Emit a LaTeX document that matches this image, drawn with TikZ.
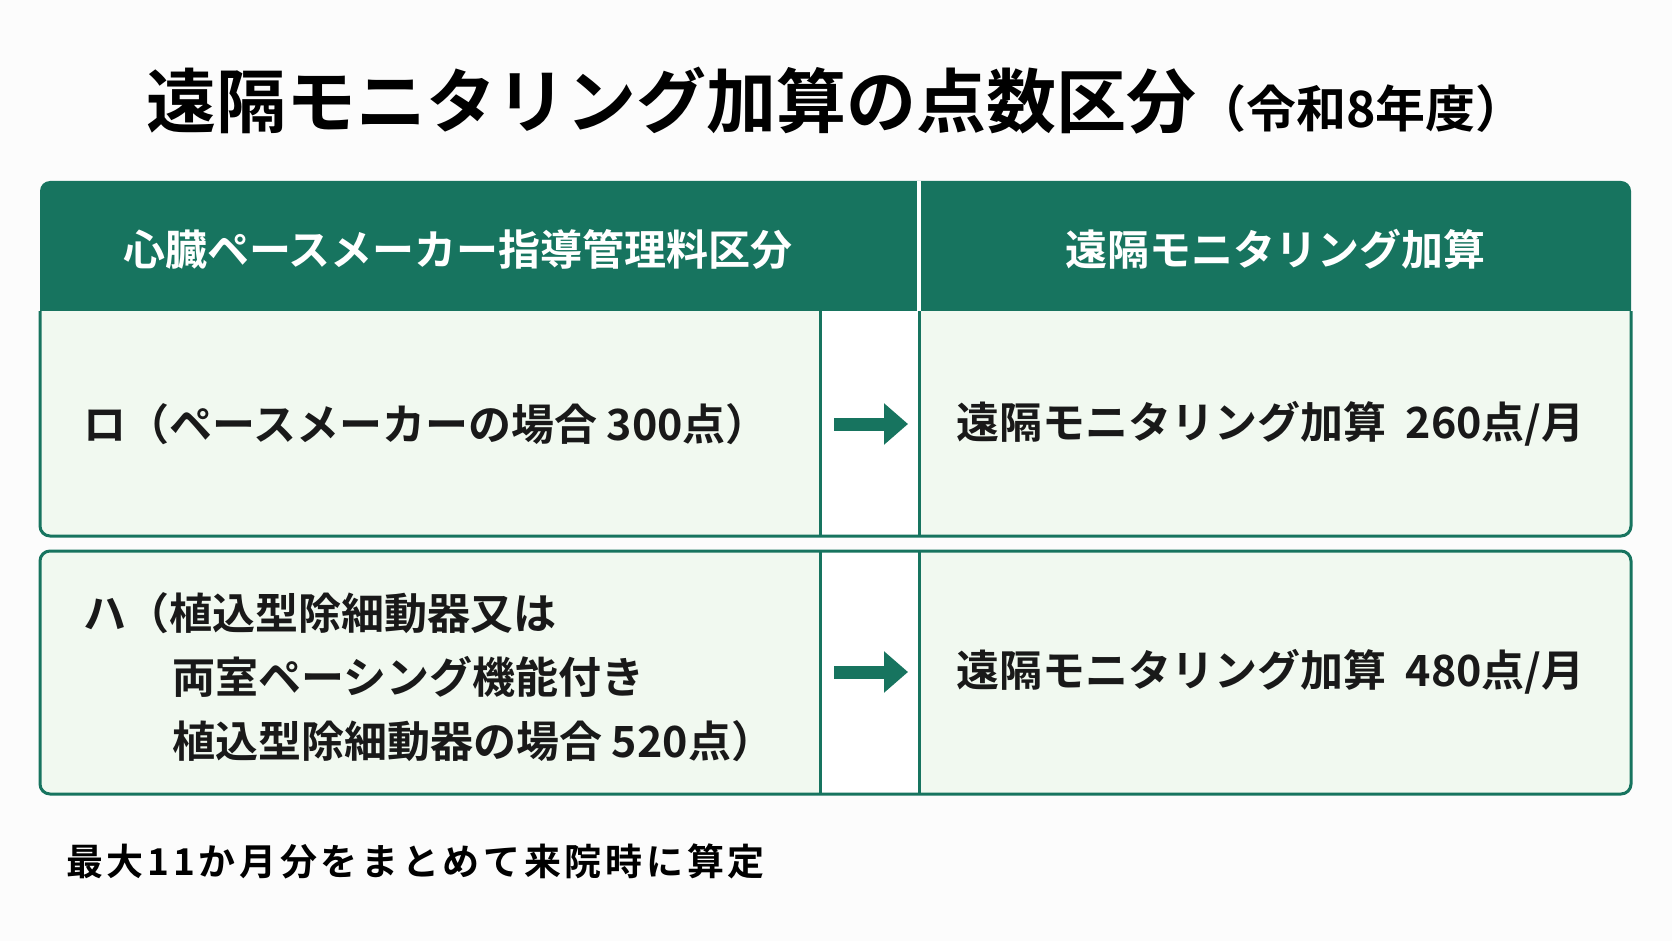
\documentclass[tikz,border=0pt]{standalone}
\usepackage{fontspec}
\setmainfont{Noto Sans CJK JP}[BoldFont={Noto Sans CJK JP Bold}]
\newfontfamily\jpb{Noto Sans CJK JP Bold}
\newfontfamily\jpbs{Noto Sans CJK JP Bold}[LetterSpace=10]
\definecolor{dg}{HTML}{17745F}
\definecolor{lg}{HTML}{F1F9F0}
\begin{document}
\begin{tikzpicture}[x=1pt,y=-1pt,
 cell/.style={draw=dg,line width=3pt},
 txt/.style={anchor=west,inner sep=0,font=\jpb\fontsize{43}{45}\selectfont,text=black!90},
 arr/.style={dg,line width=13pt,-{Triangle[length=24pt,width=40pt]}}]
\usetikzlibrary{arrows.meta}
\fill[white!98!gray] (0,0) rectangle (1672,941);
\useasboundingbox (0,0) rectangle (1672,941);
\node[inner sep=0] (title) at (836,101) {\jpb\fontsize{70}{72}\selectfont 遠隔モニタリング加算の点数区分{\fontsize{50}{52}\selectfont （令和8年度）}};
% header
\fill[dg,rounded corners=10pt] (40,181) rectangle (1631,320);
\fill[dg] (40,300) rectangle (1631,311);
\draw[white,line width=4pt] (919,181) -- (919,311);
\node[inner sep=0,text=white,font=\jpb\fontsize{42}{44}\selectfont] (h1) at (458,249) {心臓ペースメーカー指導管理料区分};
\node[inner sep=0,text=white,font=\jpb\fontsize{42}{44}\selectfont] (h2) at (1275,249) {遠隔モニタリング加算};
% row1
\begin{scope}
\clip[rounded corners=10pt] (40,290) rectangle (1631,536);
\fill[lg] (40,311) rectangle (1631,536);
\fill[white] (820,311) rectangle (919,536);
\end{scope}
\draw[cell,rounded corners=10pt] (40,311) -- (40,536) -- (1631,536) -- (1631,311);
\draw[cell] (820,311) -- (820,536) (919,311) -- (919,536);
% row2
\fill[lg,rounded corners=10pt] (40,551) rectangle (1631,794);
\fill[white] (820,551) rectangle (919,794);
\draw[cell,rounded corners=10pt] (40,551) rectangle (1631,794);
\draw[cell] (820,551) -- (820,794) (919,551) -- (919,794);
% texts
\node[txt] (r1l) at (83,424) {ロ（ペースメーカーの場合 300点）};
\node[txt] (r1r) at (956,424) {遠隔モニタリング加算\ \ 260点/月};
\node[txt] (r2a) at (83,613) {ハ（植込型除細動器又は};
\node[txt] (r2b) at (172,677) {両室ペーシング機能付き};
\node[txt] (r2c) at (172,741) {植込型除細動器の場合 520点）};
\node[txt] (r2r) at (956,672) {遠隔モニタリング加算\ \ 480点/月};
\coordinate (a1s) at (834,424); \coordinate (a1e) at (908,424);
\coordinate (a2s) at (834,672); \coordinate (a2e) at (908,672);
\draw[arr] (a1s) -- (a1e);
\draw[arr] (a2s) -- (a2e);
\node[anchor=west,inner sep=0,font=\jpbs\fontsize{37}{40}\selectfont] (foot) at (66,861) {最大11か月分をまとめて来院時に算定};
\end{tikzpicture}
\end{document}
